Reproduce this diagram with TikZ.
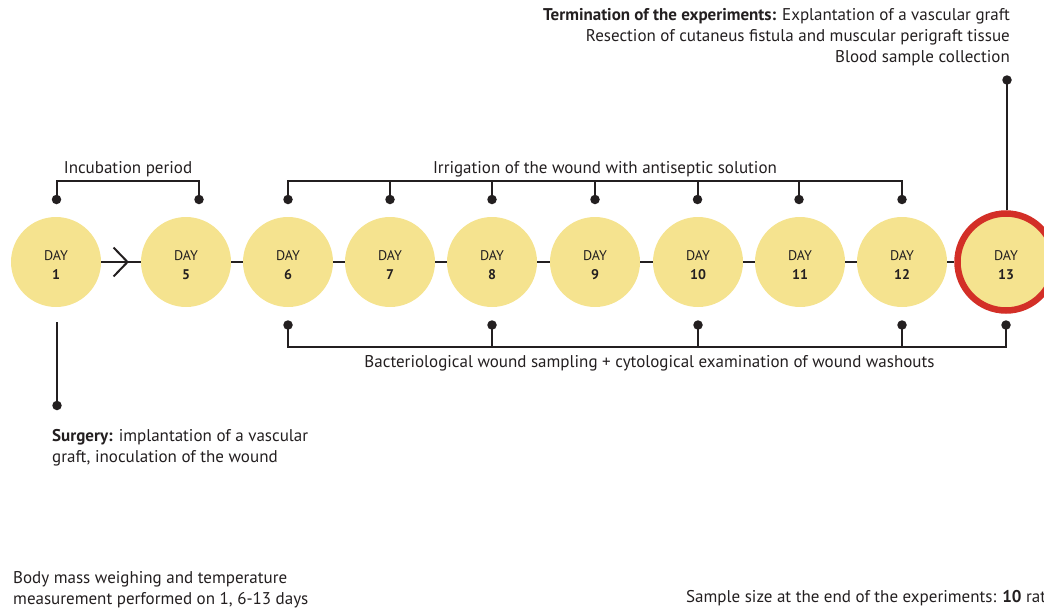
\documentclass[tikz,border=0pt]{standalone}
\usepackage{fontspec}
\setmainfont{PT Sans}
\usetikzlibrary{decorations.markings,arrows.meta}
\definecolor{dayfill}{HTML}{F5E38F}
\definecolor{ringred}{HTML}{D32F27}
\definecolor{ink}{HTML}{231F20}
\tikzset{
  day/.style={circle,fill=dayfill,minimum size=90pt,inner sep=0pt,align=center,
    font=\fontsize{14}{19}\selectfont,text=ink},
  lastday/.style={day,draw=ringred,line width=6.5pt,minimum size=97pt},
  conn/.style={draw=ink,line width=2pt},
  dot/.style={circle,fill=ink,inner sep=0pt,minimum size=9.5pt},
  lbl/.style={inner sep=0pt,text=ink,font=\fontsize{17}{21}\selectfont},
}
\newcommand{\dayno}[1]{\rule{0pt}{16pt}DAY\\\textbf{#1}}
\begin{document}
\begin{tikzpicture}[x=1pt,y=-1pt]
\useasboundingbox (0,0) rectangle (1044,608);
% days
\node[day] (d1) at (56,262) {\dayno{1}};
\node[day] (d5) at (186,262) {\dayno{5}};
\node[day] (d6) at (288,262) {\dayno{6}};
\node[day] (d7) at (390,262) {\dayno{7}};
\node[day] (d8) at (492,262) {\dayno{8}};
\node[day] (d9) at (595,262) {\dayno{9}};
\node[day] (d10) at (698,262) {\dayno{10}};
\node[day] (d11) at (800,262) {\dayno{11}};
\node[day] (d12) at (902,262) {\dayno{12}};
\node[lastday] (d13) at (1006,262) {\dayno{13}};
% timeline connectors
\draw[conn,postaction={decorate,decoration={markings,
  mark=at position 0.7 with {\arrow[ink,line width=2pt]{Straight Barb[length=14pt,width=29pt]}}}}]
  (d1) -- (d5);
\draw[conn] (d5) -- (d6);
\draw[conn] (d6) -- (d7);
\draw[conn] (d7) -- (d8);
\draw[conn] (d8) -- (d9);
\draw[conn] (d9) -- (d10);
\draw[conn] (d10) -- (d11);
\draw[conn] (d11) -- (d12);
\draw[conn] (d12) -- (d13);
% top dots
\node[dot] (t1) at (56.5,199.5) {};
\node[dot] (t5) at (199,199.5) {};
\node[dot] (t6) at (288,199.5) {};
\node[dot] (t7) at (390,199.5) {};
\node[dot] (t8) at (492,199.5) {};
\node[dot] (t9) at (595,199.5) {};
\node[dot] (t10) at (697.5,199.5) {};
\node[dot] (t11) at (799,199.5) {};
\node[dot] (t12) at (902,199.5) {};
\draw[conn] (t1.center) -- ++(0,-18.5) -| (t5.center);
\draw[conn] (t6.center) -- ++(0,-18.5) -| (t12.center);
\foreach \n in {7,8,9,10,11} \draw[conn] (t\n.center) -- ++(0,-18.5);
% bottom dots
\node[dot] (b6) at (288,325) {};
\node[dot] (b8) at (492,325) {};
\node[dot] (b10) at (698,325) {};
\node[dot] (b12) at (902,325) {};
\node[dot] (b13) at (1006,325) {};
\draw[conn] (b6.center) -- ++(0,22) -| (b13.center);
\foreach \n in {8,10,12} \draw[conn] (b\n.center) -- ++(0,22);
% day 1 down
\coordinate (s1) at (57,322);
\node[dot] (s2) at (57,405.5) {};
\draw[conn] (s1) -- (s2.center);
% day 13 up
\node[dot] (u13) at (1007,80) {};
\draw[conn] (u13.center) -- (u13.center |- d13.north);
% labels
\node[lbl,anchor=base] (inc) at (128,173) {Incubation period};
\node[lbl,anchor=base] (irr) at (605,173) {Irrigation of the wound with antiseptic solution};
\node[lbl,anchor=base] (bac) at (649.5,367) {Bacteriological wound sampling + cytological examination of wound washouts};
\node[lbl,anchor=north east,align=right] (term) at (1010,8) {\textbf{Termination of the experiments:} Explantation of a vascular graft\\Resection of cutaneus fistula and muscular perigraft tissue\\Blood sample collection};
\node[lbl,anchor=north west,align=left] (surg) at (52,429) {\textbf{Surgery:} implantation of a vascular\\graft, inoculation of the wound};
\node[lbl,anchor=north west,align=left] (body) at (13,571) {Body mass weighing and temperature\\measurement performed on 1, 6-13 days};
\node[lbl,anchor=base west] (samp) at (686,602) {Sample size at the end of the experiments: \textbf{10} rats};
\end{tikzpicture}
\end{document}
